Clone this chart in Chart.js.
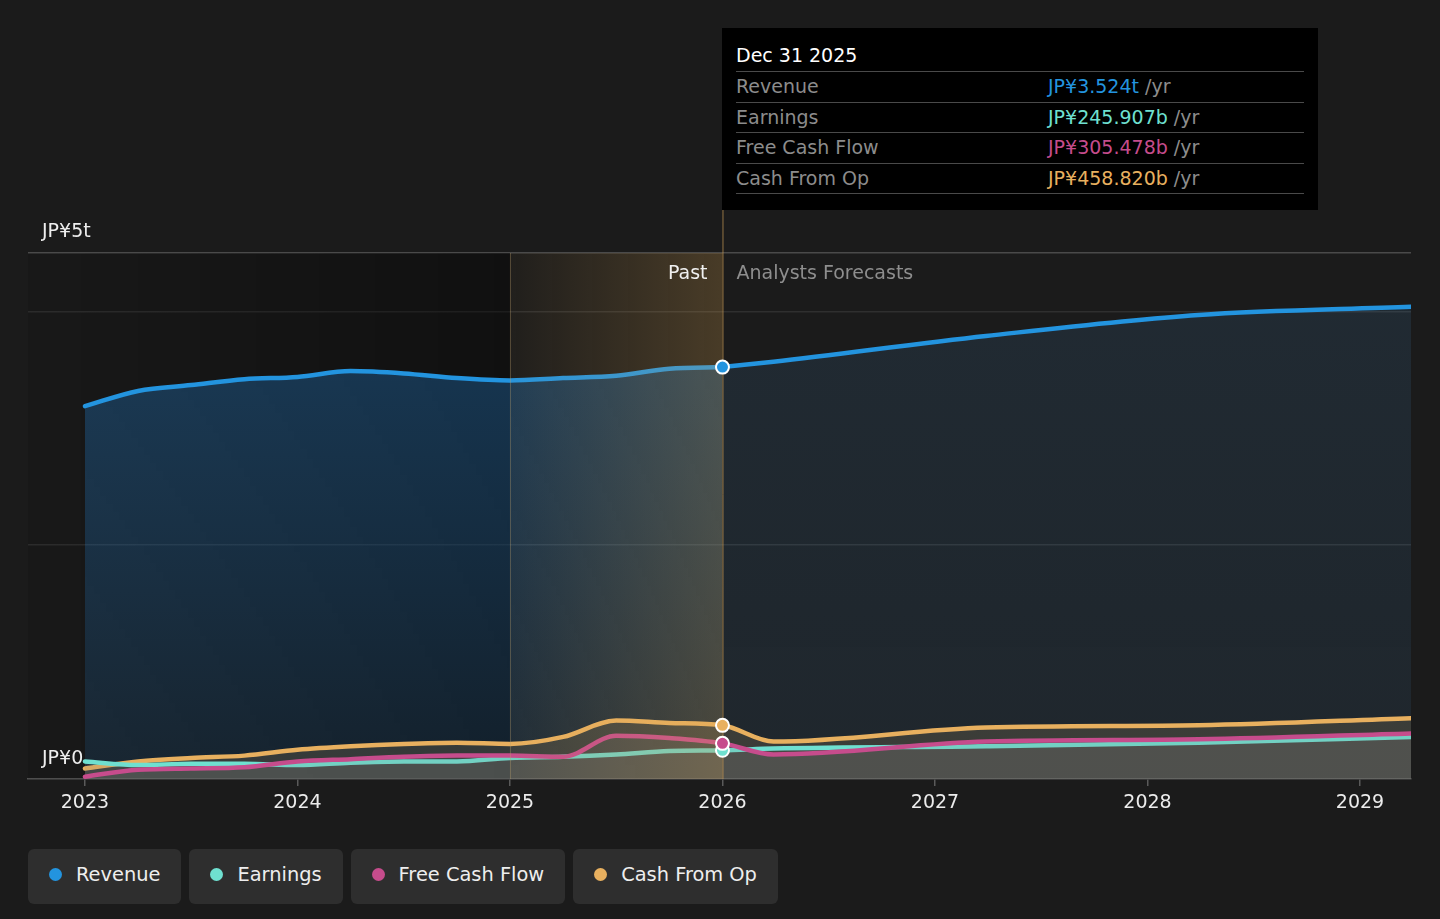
<!DOCTYPE html>
<html>
<head>
<meta charset="utf-8">
<script src="https://cdn.jsdelivr.net/npm/chart.js@4.4.1/dist/chart.umd.min.js"></script>
<style>
  html, body { margin:0; padding:0; background:#1b1b1b; width:1440px; height:919px; overflow:hidden; font-family:'DejaVu Sans', sans-serif; }
  #wrap { position:absolute; left:0; top:0; width:1440px; height:830px; }
  #tip { position:absolute; left:722px; top:28px; width:596px; height:182px; background:#000; }
  #tip .title { position:absolute; left:14px; top:13px; font-size:19px; color:#fff; line-height:28px; }
  #tip .rows { position:absolute; left:14px; top:43px; width:568px; border-bottom:1.5px solid #4a4a4a; }
  #tip .row { height:29.5px; line-height:28px; border-top:1.5px solid #4a4a4a; font-size:19px; color:#8c8c8c; position:relative; }
  #tip .row .v { position:absolute; left:312px; top:0; }
  #tip .row .u { color:#8c8c8c; }
  #legend { position:absolute; left:28px; top:849px; display:flex; gap:8px; }
  .lg { height:55px; box-sizing:border-box; padding:0 21px 5px 21px; background:#2e2e2e; border-radius:6px; display:flex; align-items:center; font-size:19.4px; color:#eee; }
  .lg .dot { width:13px; height:13px; border-radius:50%; margin-right:14px; }
</style>
</head>
<body>
<div id="wrap"><canvas id="c"></canvas></div>
<div id="tip">
  <div class="title">Dec 31 2025</div>
  <div class="rows" id="rows"></div>
</div>
<div id="legend"></div>
<script>
// ---- data (values in JP¥ trillions) ----
const pastX = [2023.0, 2023.25, 2023.5, 2023.75, 2024.0, 2024.25, 2024.5, 2024.75, 2025.0, 2025.25, 2025.5, 2025.75, 2026.0];
const fcX = [2026.0, 2026.24, 2027.24, 2028.24, 2029.24];

const revenuePast = [3.19, 3.32, 3.37, 3.42, 3.44, 3.49, 3.47, 3.43, 3.41, 3.43, 3.45, 3.51, 3.524];
const revenueFc = [3.524, 3.57, 3.79, 3.97, 4.04];
const earningsPast = [0.15, 0.12, 0.13, 0.13, 0.12, 0.14, 0.15, 0.15, 0.18, 0.19, 0.21, 0.24, 0.246];
const earningsFc = [0.246, 0.26, 0.28, 0.31, 0.36];
const fcfPast = [0.02, 0.08, 0.09, 0.10, 0.15, 0.17, 0.19, 0.20, 0.20, 0.19, 0.37, 0.35, 0.305];
const fcfFc = [0.305, 0.21, 0.32, 0.34, 0.39];
const cfoPast = [0.09, 0.15, 0.18, 0.20, 0.25, 0.28, 0.30, 0.31, 0.30, 0.36, 0.50, 0.48, 0.459];
const cfoFc = [0.459, 0.32, 0.44, 0.46, 0.52];

const seriesNames = ['Revenue', 'Earnings', 'Free Cash Flow', 'Cash From Op'];
const seriesColors = ['#2394df', '#6fe0d0', '#c64c8c', '#e8b05f'];
const tipValues = ['JP¥3.524t', 'JP¥245.907b', 'JP¥305.478b', 'JP¥458.820b'];
const yearTicks = [2023, 2024, 2025, 2026, 2027, 2028, 2029];
const yGridValues = [0, 2, 4, 4.5];
const yLabelTop = 'JP¥5t';
const yLabelBottom = 'JP¥0';
const pastStart = 2025, nowX = 2026;
const xMin = 2022.732, xMax = 2029.24, yMax = 4.5;

// ---- tooltip & legend HTML ----
const rows = document.getElementById('rows');
seriesNames.forEach((n, i) => {
  const r = document.createElement('div'); r.className = 'row';
  r.innerHTML = n + '<span class="v"><span style="color:' + seriesColors[i] + '">' + tipValues[i] + '</span><span class="u"> /yr</span></span>';
  rows.appendChild(r);
});
const lg = document.getElementById('legend');
seriesNames.forEach((n, i) => {
  const d = document.createElement('div'); d.className = 'lg';
  d.innerHTML = '<span class="dot" style="background:' + seriesColors[i] + '"></span>' + n;
  lg.appendChild(d);
});

function pts(xs, ys) { return xs.map((x, i) => ({ x: x, y: ys[i] })); }
function join(a, b) { return a.concat(b.slice(1)); }
const allX = join(pastX, fcX);

function vgrad(c0, c1) {
  return (ctx) => {
    const ch = ctx.chart; const a = ch.chartArea;
    if (!a) return c0;
    const g = ch.ctx.createLinearGradient(0, a.top, 0, a.bottom);
    g.addColorStop(0, c0); g.addColorStop(1, c1); return g;
  };
}

const lineBase = { borderWidth: 4.5, pointRadius: 0, pointHoverRadius: 0, cubicInterpolationMode: 'monotone', borderCapStyle: 'round', borderJoinStyle: 'round', fill: 'origin' };

const datasets = [
  Object.assign({}, lineBase, { label: 'Earnings', data: pts(allX, join(earningsPast, earningsFc)), borderColor: seriesColors[1], backgroundColor: 'rgba(130,130,130,0.16)', order: 4 }),
  Object.assign({}, lineBase, { label: 'Free Cash Flow', data: pts(allX, join(fcfPast, fcfFc)), borderColor: seriesColors[2], backgroundColor: 'rgba(130,130,130,0.16)', order: 3 }),
  Object.assign({}, lineBase, { label: 'Cash From Op', data: pts(allX, join(cfoPast, cfoFc)), borderColor: seriesColors[3], backgroundColor: 'rgba(95,88,72,0.45)', order: 5 }),
  Object.assign({}, lineBase, { label: 'Revenue', data: pts(pastX, revenuePast), borderColor: seriesColors[0], backgroundColor: vgrad('rgba(35,140,230,0.34)', 'rgba(35,140,230,0.12)'), order: 7 }),
  Object.assign({}, lineBase, { label: 'Revenue forecast', data: pts(fcX, revenueFc), borderColor: seriesColors[0], backgroundColor: vgrad('rgba(70,140,200,0.14)', 'rgba(70,140,200,0.10)'), order: 6 }),
];

const decor = {
  id: 'decor',
  beforeDatasetsDraw(ch) {
    const c = ch.ctx, a = ch.chartArea, xs = ch.scales.x;
    const x25 = xs.getPixelForValue(pastStart);
    c.save();
    const g = c.createLinearGradient(a.left, 0, x25, 0);
    g.addColorStop(0, 'rgba(0,0,0,0.08)'); g.addColorStop(1, 'rgba(0,0,0,0.38)');
    c.fillStyle = g; c.fillRect(a.left, a.top, x25 - a.left, a.bottom - a.top);
    c.restore();
  },
  afterDatasetsDraw(ch) {
    const c = ch.ctx, a = ch.chartArea, xs = ch.scales.x;
    const x25 = xs.getPixelForValue(pastStart), x26 = xs.getPixelForValue(nowX);
    c.save();
    const g = c.createLinearGradient(x25, 0, x26, 0);
    g.addColorStop(0, 'rgba(220,165,80,0.03)'); g.addColorStop(1, 'rgba(220,165,80,0.24)');
    c.fillStyle = g; c.fillRect(x25, a.top, x26 - x25, a.bottom - a.top);
    c.lineWidth = 1;
    c.strokeStyle = 'rgba(190,160,110,0.35)';
    c.beginPath(); c.moveTo(x25 + 0.5, a.top); c.lineTo(x25 + 0.5, a.bottom); c.stroke();
    c.strokeStyle = 'rgba(200,155,85,0.7)';
    c.beginPath(); c.moveTo(x26 + 0.5, 210); c.lineTo(x26 + 0.5, a.bottom); c.stroke();
    c.restore();
  },
  afterDraw(ch) {
    const c = ch.ctx, a = ch.chartArea, xs = ch.scales.x, ys = ch.scales.y;
    const x26 = xs.getPixelForValue(nowX);
    c.save();
    c.font = '19px "DejaVu Sans"'; c.textBaseline = 'middle';
    c.fillStyle = '#f0f0f0'; c.textAlign = 'right';
    c.fillText('Past', x26 - 15, a.top + 21);
    c.fillStyle = '#8e8e8e'; c.textAlign = 'left';
    c.fillText('Analysts Forecasts', x26 + 14, a.top + 21);
    c.fillStyle = '#eeeeee';
    c.fillText(yLabelTop, 42, ys.getPixelForValue(yMax) - 21);
    c.fillText(yLabelBottom, 42, ys.getPixelForValue(0) - 20);
    // markers at the current point
    const marks = [[earningsPast, 1], [fcfPast, 2], [cfoPast, 3], [revenuePast, 0]];
    marks.forEach(([arr, ci]) => {
      const y = ys.getPixelForValue(arr[arr.length - 1]);
      c.beginPath(); c.arc(x26, y, 6.5, 0, Math.PI * 2);
      c.fillStyle = seriesColors[ci]; c.fill();
      c.lineWidth = 2; c.strokeStyle = '#ffffff'; c.stroke();
    });
    c.restore();
  }
};

new Chart(document.getElementById('c'), {
  type: 'line',
  data: { datasets: datasets },
  options: {
    responsive: true, maintainAspectRatio: false, animation: false,
    layout: { padding: { left: 28, right: 29, top: 253, bottom: 11 } },
    plugins: { legend: { display: false }, tooltip: { enabled: false } },
    events: [],
    scales: {
      x: {
        type: 'linear', min: xMin, max: xMax,
        afterBuildTicks: (s) => { s.ticks = yearTicks.map(v => ({ value: v })); },
        afterFit: (s) => { s.height = 40; },
        ticks: { color: '#ececec', font: { family: 'DejaVu Sans', size: 19 }, padding: 6, maxRotation: 0, autoSkip: false, callback: (v) => String(v) },
        grid: { drawOnChartArea: false, drawTicks: true, tickLength: 7, color: '#5a5a5a', lineWidth: 1.5 },
        border: { display: true, color: '#555555', width: 1.5 }
      },
      y: {
        min: 0, max: yMax,
        afterBuildTicks: (s) => { s.ticks = yGridValues.map(v => ({ value: v })); },
        afterFit: (s) => { s.width = 0; },
        ticks: { display: false },
        grid: { drawTicks: false, color: (ctx) => ctx.tick && ctx.tick.value === yMax ? '#4a4a4a' : (ctx.tick && ctx.tick.value === 0 ? 'rgba(0,0,0,0)' : '#2f2f2f'), lineWidth: 1.5 },
        border: { display: false }
      }
    }
  },
  plugins: [decor]
});
</script>
</body>
</html>
